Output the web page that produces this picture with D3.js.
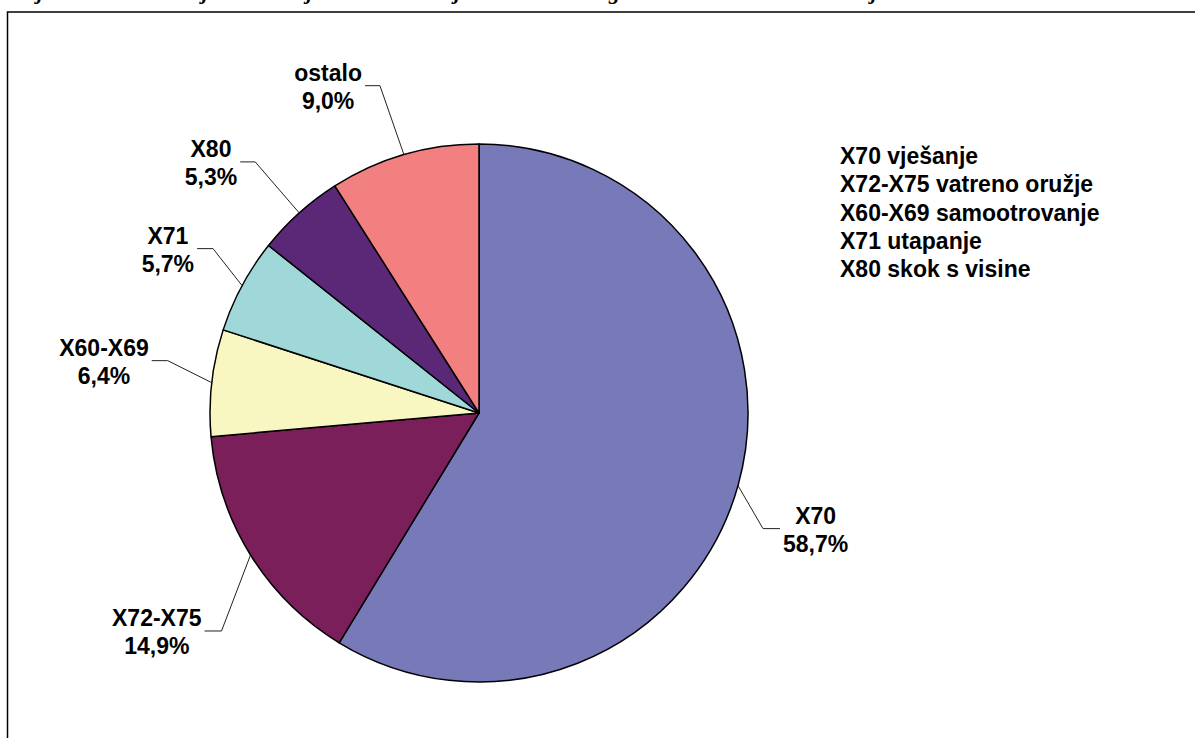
<!DOCTYPE html>
<html>
<head>
<meta charset="utf-8">
<script src="https://cdn.jsdelivr.net/npm/d3@7"></script>
<style>
  html, body { margin: 0; padding: 0; background: #fff; overflow: hidden; }
  svg { display: block; }
  text { font-family: "Liberation Sans", Arial, sans-serif; font-weight: bold; fill: #000; }
</style>
</head>
<body>
<svg id="chart" width="1195" height="738"></svg>
<script>
// Shares of suicide methods (ICD-10 codes), percent
const categories = ["X70", "X72-X75", "X60-X69", "X71", "X80", "ostalo"];
const shares = [58.7, 14.9, 6.4, 5.7, 5.3, 9.0];
const colors = ["#7779B9", "#7B1F5A", "#F8F7C2", "#A0D8DA", "#5B2777", "#F38080"];
const legendCodes = ["X70", "X72-X75", "X60-X69", "X71", "X80"];
const legendNames = ["vješanje", "vatreno oružje", "samootrovanje", "utapanje", "skok s visine"];
const titleText = "Udjeli načina izvršenja samoubojstva u Hrvatskoj od 1995.–2008. godine za muškarce i žene zajedno";

// Leader-line geometry per slice: elbow offset from the slice's edge point, then a short horizontal tail
const labelLayout = {
  "X70":     { elbow: [25, 43],   tail: 17 },
  "X72-X75": { elbow: [-29, 76],  tail: -17 },
  "X60-X69": { elbow: [-44, -22], tail: -16 },
  "X71":     { elbow: [-29, -37], tail: -16 },
  "X80":     { elbow: [-44, -51], tail: -15 },
  "ostalo":  { elbow: [-24, -69], tail: -15 }
};

const svg = d3.select("#chart");
const W = 1195, H = 738;
const cx = 479, cy = 413, R = 269;
const fontSize = 23, lineGap = 28.5;

const pct = d3.formatLocale({ decimal: ",", thousands: ".", grouping: [3], currency: ["", ""] }).format(".1f");

// Title sits above the visible area; only its descenders reach into view
svg.append("text")
  .attr("x", 10).attr("y", -1.5)
  .style("font-family", "'Liberation Serif', 'Times New Roman', serif")
  .style("font-style", "italic")
  .style("font-size", "22px")
  .text(titleText);

// Chart-area frame
svg.append("rect")
  .attr("x", 7.5).attr("y", 12)
  .attr("width", W + 20).attr("height", H + 20)
  .attr("fill", "none").attr("stroke", "#000").attr("stroke-width", 1.5);

const data = categories.map((c, i) => ({ cat: c, value: shares[i], color: colors[i] }));
const pie = d3.pie().sort(null).value(d => d.value);
const arcs = pie(data);

const arc = d3.arc().innerRadius(0).outerRadius(R);
const edge = d3.arc().innerRadius(R).outerRadius(R);

const g = svg.append("g").attr("transform", `translate(${cx},${cy})`);

g.selectAll("path.slice")
  .data(arcs)
  .join("path")
  .attr("class", "slice")
  .attr("d", arc)
  .attr("fill", d => d.data.color)
  .attr("stroke", "#000")
  .attr("stroke-width", 1.5)
  .attr("stroke-linejoin", "round");

// Leader lines and data labels
arcs.forEach(a => {
  const lay = labelLayout[a.data.cat];
  const [ex, ey] = edge.centroid(a);
  const bx = ex + lay.elbow[0], by = ey + lay.elbow[1];
  const tx = bx + lay.tail;

  g.append("polyline")
    .attr("points", `${ex},${ey} ${bx},${by} ${tx},${by}`)
    .attr("fill", "none")
    .attr("stroke", "#222")
    .attr("stroke-width", 1);

  const lbl = g.append("text")
    .attr("text-anchor", "middle")
    .style("font-size", fontSize + "px");
  const t1 = lbl.append("tspan").attr("y", by - 5).text(a.data.cat);
  const t2 = lbl.append("tspan").attr("y", by - 5 + lineGap).text(pct(a.data.value) + "%");
  const w = Math.max(t1.node().getComputedTextLength(), t2.node().getComputedTextLength());
  const side = Math.sign(lay.tail);
  const mid = tx + side * (3 + w / 2);
  t1.attr("x", mid);
  t2.attr("x", mid);
});

// Legend of code descriptions
const legend = svg.append("text")
  .attr("x", 840)
  .style("font-size", fontSize + "px");
legendCodes.forEach((c, i) => {
  legend.append("tspan")
    .attr("x", 840)
    .attr("y", 164 + i * 28.3)
    .text(c + " " + legendNames[i]);
});
</script>
</body>
</html>
